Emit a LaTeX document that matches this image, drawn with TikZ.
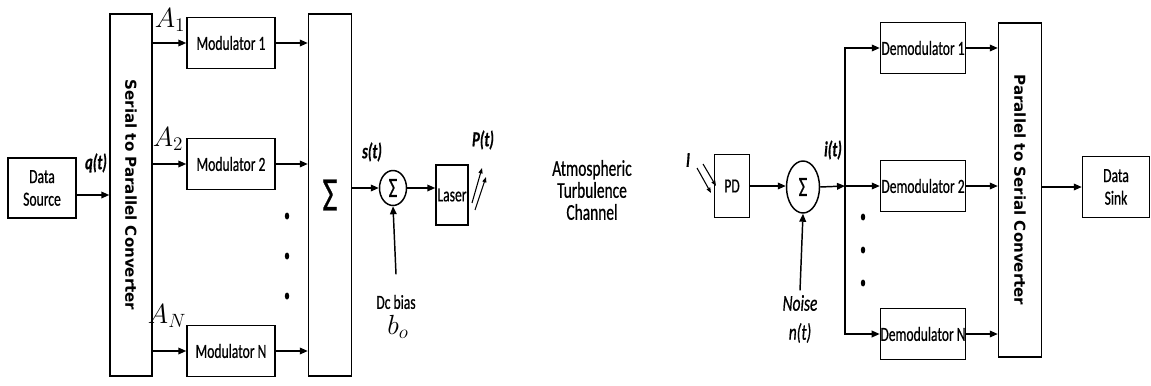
\documentclass[tikz,border=0pt]{standalone}
\usepackage{graphicx}
\usepackage{fontspec}
\setmainfont{Carlito}[FakeStretch=0.68, FakeBold=0.6]
\newfontfamily\convfont{DejaVu Sans}
\usetikzlibrary{arrows.meta,shapes.geometric}

\tikzset{
  blk/.style={draw, line width=1.1pt, rectangle, inner sep=0pt, align=center,
    minimum width=66pt, minimum height=38.25pt, font=\fontsize{15}{17}\selectfont},
  sumc/.style={draw, line width=1.1pt, ellipse, inner sep=0pt,
    font=\fontsize{21}{21}\selectfont},
  arr/.style={line width=1.1pt, -{Triangle[length=6pt,width=5pt]}},
  ray/.style={line width=0.8pt, -{Triangle[length=4pt,width=3pt]}},
  sig/.style={font=\fontsize{16}{17}\selectfont\bfseries\itshape},
  coef/.style={font=\fontsize{21}{21}\selectfont},
  txt/.style={font=\fontsize{15}{17}\selectfont, align=center},
  conv/.style={font=\convfont\bfseries\fontsize{11.3}{11.3}\selectfont},
}

\begin{document}
\begin{tikzpicture}[x=0.75pt,y=-0.75pt]
\useasboundingbox (0,0) rectangle (1151,385);

% transmitter
\node[blk, minimum width=51pt, minimum height=45pt] (src) at (42,188) {Data\\Source};
\node[blk, minimum width=31.5pt, minimum height=271.5pt, conv] (sp) at (131,195)
  {\rotatebox{-90}{Serial to Parallel Converter}};
\node[blk] (mod1) at (231,43) {Modulator 1};
\node[blk] (mod2) at (231,164) {Modulator 2};
\node[blk] (modN) at (231,351) {Modulator N};
\node[blk, minimum width=32.25pt, minimum height=271.5pt,
  font=\fontsize{36}{36}\selectfont] (sumbox) at (330,195) {Σ};
\node[sumc, minimum width=20.25pt, minimum height=26.25pt] (add1) at (393,188) {Σ};
\node[blk, minimum width=24pt, minimum height=45pt] (laser) at (452,195) {Laser};
\node[txt] (dc) at (396,302) {Dc bias};
\node[font=\fontsize{21}{21}\selectfont] (bo) at (398,327) {$b_o$};

\node[sig] (qt) at (96,163) {q(t)};
\node[coef] (a1) at (170,20) {$A_1$};
\node[coef] (a2) at (168,139) {$A_2$};
\node[coef] (aN) at (167,316) {$A_N$};
\node[sig] (st) at (372,152) {s(t)};
\node[sig] (pt) at (483,140) {P(t)};

\draw[arr] (src.east |- sp) -- (sp.west);
\draw[arr] (sp.east |- mod1) -- (mod1.west);
\draw[arr] (sp.east |- mod2) -- (mod2.west);
\draw[arr] (sp.east |- modN) -- (modN.west);
\draw[arr] (mod1.east) -- (mod1.east -| sumbox.west);
\draw[arr] (mod2.east) -- (mod2.east -| sumbox.west);
\draw[arr] (modN.east) -- (modN.east -| sumbox.west);
\draw[arr] (sumbox.east |- add1) -- (add1.west);
\draw[arr] (add1.east) -- (add1.east -| laser.west);
\draw[arr] ([yshift=12pt]dc.north) -- (add1.south);
\draw[ray] (472,203) -- (482,168);
\draw[ray] (475,210) -- (486,177);
\foreach \y in {216,256,296} \fill (287,\y) ellipse (2.2 and 3.5);

% channel
\node[txt, font=\fontsize{17}{16.5}\selectfont] (atc) at (592,190)
  {Atmospheric\\Turbulence\\Channel};

% receiver
\node[blk, minimum width=26.25pt, minimum height=47.25pt] (pd) at (732,186) {PD};
\node[sumc, minimum width=24.75pt, minimum height=39pt] (add2) at (803,187) {Σ};
\coordinate (br) at (845,186);
\node[blk, minimum width=63.75pt] (dem1) at (923,48) {Demodulator 1};
\node[blk, minimum width=63.75pt] (dem2) at (923,186) {Demodulator 2};
\node[blk, minimum width=63.75pt] (demN) at (923,334) {Demodulator N};
\node[blk, minimum width=32.25pt, minimum height=250.5pt, conv] (ps) at (1020,190)
  {\rotatebox{-90}{Parallel to Serial Converter}};
\node[blk, minimum width=50.25pt, minimum height=45.75pt] (sink) at (1116,187) {Data\\Sink};
\node[txt, font=\fontsize{17}{17}\selectfont\itshape] (noise) at (800,303) {Noise};
\node[txt, font=\fontsize{17}{17}\selectfont\itshape] (nt) at (800,333) {n(t)};

\node[sig] (il) at (688,160) {I};
\node[sig] (it) at (833,150) {i(t)};

\draw[ray] (697,168) -- (711,193);
\draw[ray] (703,164) -- (716,186);
\draw[arr] (pd.east) -- (pd.east -| add2.west);
\draw[arr] (noise.north) -- (add2.south);
\draw[arr] (add2.east) -- (br);
\draw[arr] (br) |- (dem1.west);
\draw[arr] (br) -- (dem2.west);
\draw[arr] (br) |- (demN.west);
\draw[arr] (dem1.east) -- (dem1.east -| ps.west);
\draw[arr] (dem2.east) -- (dem2.east -| ps.west);
\draw[arr] (demN.east) -- (demN.east -| ps.west);
\draw[arr] (ps.east |- sink) -- (sink.west);
\foreach \y in {217,250,283} \fill (863,\y) ellipse (2.2 and 3.5);
\end{tikzpicture}
\end{document}
